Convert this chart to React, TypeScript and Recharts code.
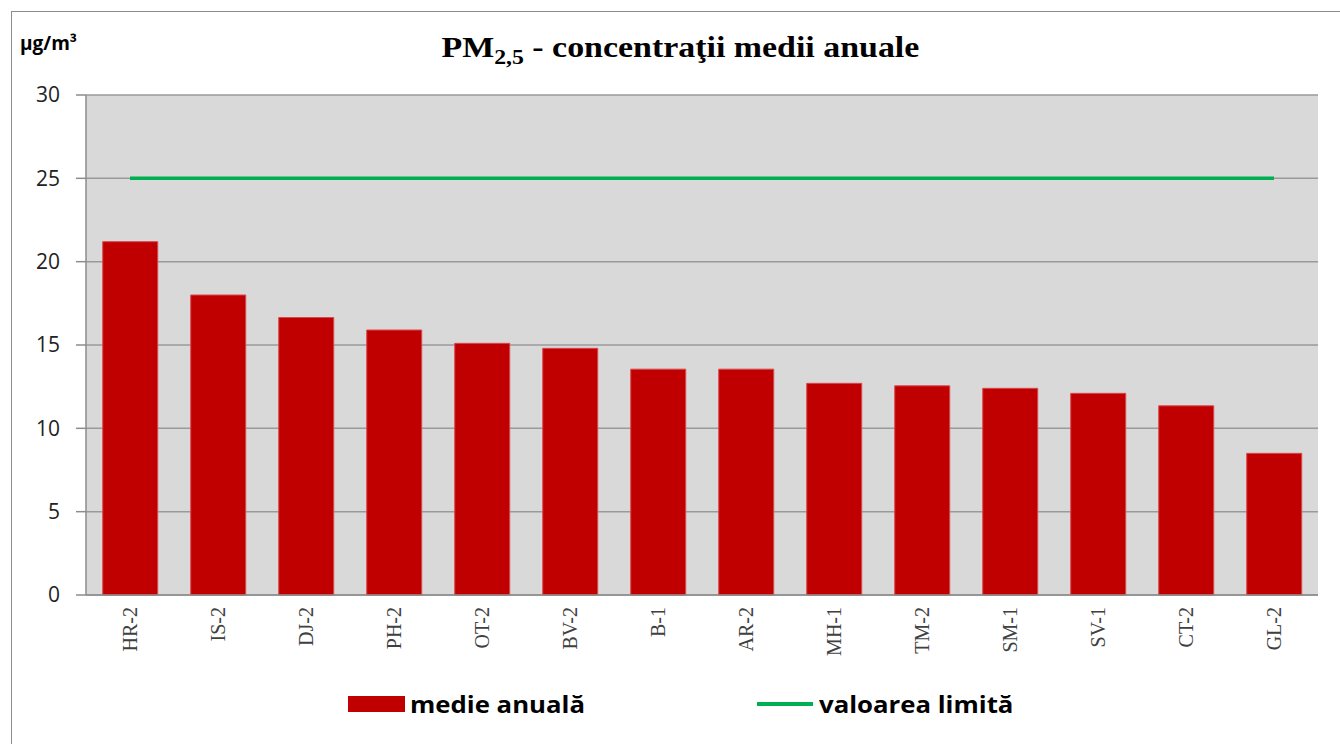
import React from 'react';
import { ComposedChart, Bar, Line, XAxis, YAxis, CartesianGrid } from 'recharts';

const stations = ['HR-2', 'IS-2', 'DJ-2', 'PH-2', 'OT-2', 'BV-2', 'B-1', 'AR-2', 'MH-1', 'TM-2', 'SM-1', 'SV-1', 'CT-2', 'GL-2'];
const annualMean = [21.2, 18.0, 16.65, 15.9, 15.1, 14.8, 13.55, 13.55, 12.7, 12.55, 12.4, 12.1, 11.35, 8.5];
const limitValue = [25, 25, 25, 25, 25, 25, 25, 25, 25, 25, 25, 25, 25, 25];
const yTicks = [0, 5, 10, 15, 20, 25, 30];

const data = stations.map((s, i) => ({ station: s, mean: annualMean[i], limit: limitValue[i] }));

const StationTick = (props: any) => {
  const { x, y, payload } = props;
  return (
    <text
      x={x}
      y={y}
      transform={`rotate(-90 ${x} ${y})`}
      dx={-4}
      dy={7}
      textAnchor="end"
      fontFamily="'Liberation Serif', serif"
      fontSize={20}
      fill="#404040"
    >
      {payload.value}
    </text>
  );
};

const legendText: React.CSSProperties = {
  fontFamily: "'Open Sans', sans-serif",
  fontWeight: 700,
  fontSize: 23,
  color: '#000',
  display: 'inline-block',
  transform: 'scaleX(1.12)',
  transformOrigin: 'left center',
};

export default function App() {
  return (
    <div style={{ position: 'fixed', left: 0, top: 0, width: 1340, height: 744, background: '#fff', overflow: 'hidden' }}>
      <div style={{ position: 'absolute', left: 11, top: 11, width: 1340, height: 760, border: '1px solid #8c8c8c' }} />
      <div style={{ position: 'absolute', left: 20, top: 30, fontFamily: "'Open Sans', sans-serif", fontWeight: 700, fontSize: 19, color: '#000' }}>
        µg/m³
      </div>
      <div style={{ position: 'absolute', left: 0, width: 1360, top: 30, textAlign: 'center' }}>
        <span style={{ display: 'inline-block', transform: 'scaleX(1.13)', fontFamily: "'Liberation Serif', serif", fontWeight: 700, fontSize: 30, color: '#000' }}>
          PM<sub style={{ fontSize: 21, verticalAlign: -7 }}>2,5</sub> - concentraţii medii anuale
        </span>
      </div>
      <div style={{ position: 'absolute', left: 0, top: 0 }}>
        <ComposedChart width={1340} height={744} data={data} margin={{ top: 95, right: 22, bottom: 0, left: 0 }} barCategoryGap="19%">
          <CartesianGrid vertical={false} stroke="#9a9a9a" strokeWidth={1.5} fill="#d9d9d9" />
          <XAxis
            dataKey="station"
            interval={0}
            tickLine={false}
            axisLine={{ stroke: '#8c8c8c', strokeWidth: 1.5 }}
            tick={<StationTick />}
            height={149}
          />
          <YAxis
            domain={[0, 30]}
            ticks={yTicks}
            width={86}
            tickSize={10}
            tickMargin={16}
            axisLine={{ stroke: '#8c8c8c', strokeWidth: 1.5 }}
            tickLine={{ stroke: '#8c8c8c', strokeWidth: 1.5 }}
            tick={{ fontFamily: "'Open Sans', sans-serif", fontSize: 21, fill: '#222' }}
          />
          <Bar dataKey="mean" fill="#c00000" stroke="#d9484c" strokeWidth={1} isAnimationActive={false} />
          <Line dataKey="limit" stroke="#00b050" strokeWidth={3.5} dot={false} isAnimationActive={false} />
        </ComposedChart>
      </div>
      <div style={{ position: 'absolute', top: 688, left: 348, display: 'flex', alignItems: 'center' }}>
        <span style={{ display: 'inline-block', width: 57, height: 16, background: '#c00000', marginRight: 5 }} />
        <span style={legendText}>medie anuală</span>
      </div>
      <div style={{ position: 'absolute', top: 688, left: 757, display: 'flex', alignItems: 'center' }}>
        <span style={{ display: 'inline-block', width: 56, height: 4, background: '#00b050', marginRight: 6 }} />
        <span style={legendText}>valoarea limită</span>
      </div>
    </div>
  );
}
